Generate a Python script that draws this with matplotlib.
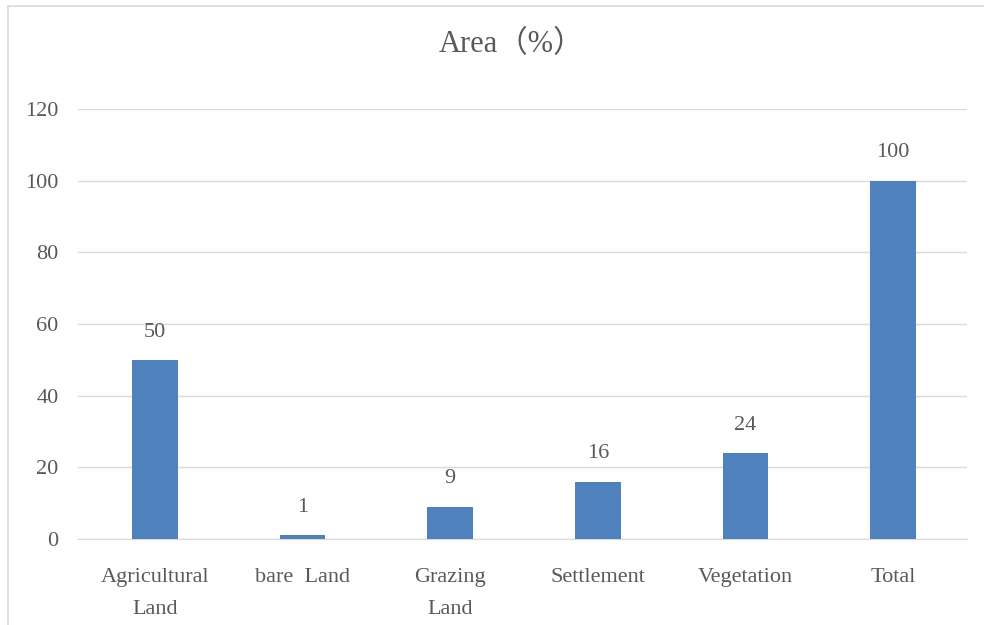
import matplotlib.pyplot as plt

categories = ["Agricultural\nLand", "bare  Land", "Grazing\nLand",
              "Settlement", "Vegetation", "Total"]
area_pct = [50, 1, 9, 16, 24, 100]
y_ticks = [0, 20, 40, 60, 80, 100, 120]

serif = ["Liberation Serif", "Noto Sans CJK JP", "DejaVu Sans"]
text_gray = "#595959"
grid_gray = "#D9D9D9"

fig = plt.figure(figsize=(9.84, 6.25), dpi=100)
ax = fig.add_axes([0.0793, 0.1376, 0.9034, 0.688])

x = range(len(categories))
bars = ax.bar(x, area_pct, width=0.31, color="#4F81BD", zorder=3)

for rect, val in zip(bars, area_pct):
    ax.annotate(str(val), (rect.get_x() + rect.get_width() / 2, rect.get_height()),
                xytext=(0, 20), textcoords="offset points", ha="center",
                va="center", fontsize=16, color=text_gray, family=serif)

ax.set_xlim(-0.52, len(categories) - 0.5)
ax.set_ylim(0, 120)
ax.set_yticks(y_ticks)
ax.set_yticklabels([str(t) for t in y_ticks], family=serif, fontsize=16,
                   color=text_gray)
ax.set_xticks(list(x))
ax.set_xticklabels(categories, family=serif, fontsize=16, color=text_gray,
                   linespacing=1.9)
ax.tick_params(axis="both", length=0)
ax.tick_params(axis="y", pad=14)
ax.tick_params(axis="x", pad=21)

ax.grid(axis="y", color=grid_gray, linewidth=1, zorder=0)
for side in ["top", "right", "left"]:
    ax.spines[side].set_visible(False)
ax.spines["bottom"].set_color(grid_gray)

fig.text(0.52, 0.929, "Area（%）", ha="center", va="center", fontsize=22,
         color=text_gray, family=serif)

# outer chart frame (cut off on the right and bottom like the original)
frame = plt.Rectangle((8 / 984, -0.1), 1.2, 1.1 - 6 / 625, transform=fig.transFigure,
                      fill=False, edgecolor=grid_gray, linewidth=1.2)
fig.patches.append(frame)

fig.savefig("out.png", dpi=100)
